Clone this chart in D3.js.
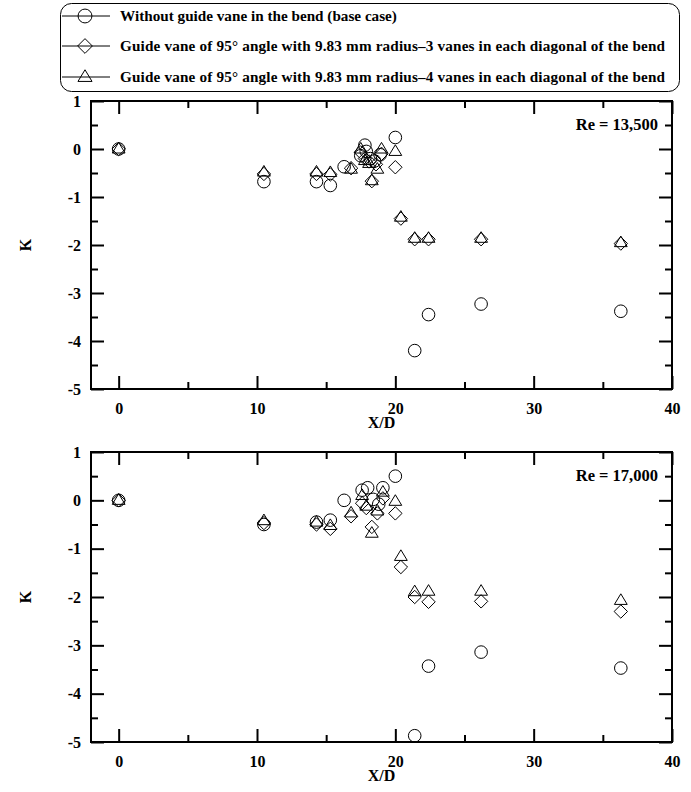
<!DOCTYPE html>
<html><head><meta charset="utf-8">
<script src="https://cdn.jsdelivr.net/npm/d3@7"></script>
<style>
body{margin:0;background:#fff;}
svg{display:block;}
text{font-family:"Liberation Serif","Times New Roman",serif;font-weight:bold;fill:#000;}
</style></head><body>
<svg id="c" width="691" height="792"></svg>
<script>
// ---- data ----
const legendLabels = [
  "Without guide vane in the bend (base case)",
  "Guide vane of 95\u00b0 angle with 9.83 mm radius\u20133 vanes in each diagonal of the bend",
  "Guide vane of 95\u00b0 angle with 9.83 mm radius\u20134 vanes in each diagonal of the bend"
];
const xTicks = [0, 10, 20, 30, 40];
const xMinorTicks = [5, 15, 25, 35];
const yTicks = [1, 0, -1, -2, -3, -4, -5];
const yMinorTicks = [0.5, -0.5, -1.5, -2.5, -3.5, -4.5];
const reLabels = ["Re = 13,500", "Re = 17,000"];

// Re = 13,500
const topCircleX  = [0, 10.5, 14.3, 15.3, 16.3, 17.5, 17.8, 17.9, 18.2, 18.5, 18.9, 20.0, 21.4, 22.4, 26.2, 36.3];
const topCircleK  = [0, -0.68, -0.68, -0.76, -0.37, -0.14, 0.08, -0.05, -0.2, -0.25, -0.12, 0.24, -4.2, -3.45, -3.23, -3.38];
const topDiamondX = [0, 10.5, 14.3, 15.3, 16.8, 17.5, 17.8, 18.1, 18.3, 18.6, 19.0, 20.0, 20.4, 21.4, 22.4, 26.2, 36.3];
const topDiamondK = [0, -0.52, -0.52, -0.53, -0.40, -0.07, -0.2, -0.26, -0.67, -0.32, -0.1, -0.38, -1.45, -1.88, -1.88, -1.88, -1.97];
const topTriX     = [0, 10.5, 14.3, 15.3, 16.8, 17.5, 17.8, 18.1, 18.3, 18.7, 19.0, 20.0, 20.4, 21.4, 22.4, 26.2, 36.3];
const topTriK     = [0, -0.48, -0.48, -0.49, -0.42, 0.0, -0.24, -0.3, -0.66, -0.42, 0.0, -0.05, -1.42, -1.86, -1.86, -1.86, -1.95];

// Re = 17,000
const botCircleX  = [0, 10.5, 14.3, 15.3, 16.3, 17.6, 18.0, 18.4, 18.8, 19.1, 20.0, 21.4, 22.4, 26.2, 36.3];
const botCircleK  = [0, -0.5, -0.45, -0.41, 0.0, 0.21, 0.26, 0.02, -0.08, 0.26, 0.5, -4.87, -3.43, -3.14, -3.47];
const botDiamondX = [0, 10.5, 14.3, 15.3, 16.8, 17.6, 17.9, 18.3, 18.7, 19.1, 20.0, 20.4, 21.4, 22.4, 26.2, 36.3];
const botDiamondK = [0, -0.47, -0.5, -0.59, -0.33, -0.06, -0.16, -0.55, -0.27, 0.04, -0.27, -1.38, -2.0, -2.1, -2.09, -2.3];
const botTriX     = [0, 10.5, 14.3, 15.3, 16.8, 17.6, 17.9, 18.3, 18.7, 19.1, 20.0, 20.4, 21.4, 22.4, 26.2, 36.3];
const botTriK     = [0, -0.42, -0.45, -0.52, -0.26, 0.1, -0.12, -0.68, -0.22, 0.17, -0.02, -1.16, -1.89, -1.88, -1.88, -2.07];

const panels = [
  {re: reLabels[0], top: 101, bottom: 389, series: [[topCircleX, topCircleK], [topDiamondX, topDiamondK], [topTriX, topTriK]]},
  {re: reLabels[1], top: 452, bottom: 742, series: [[botCircleX, botCircleK], [botDiamondX, botDiamondK], [botTriX, botTriK]]}
];

// ---- drawing ----
const svg = d3.select("#c");
const left = 91, right = 672;
const x = d3.scaleLinear().domain([-2, 40]).range([left, right]);

function drawMarker(g, i, cx, cy, scale) {
  scale = scale || 1;
  if (i === 0) {
    g.append("circle").attr("cx", cx).attr("cy", cy).attr("r", 6.3 * scale)
      .attr("fill", "none").attr("stroke", "#000").attr("stroke-width", 1);
  } else if (i === 1) {
    const h = 6.7 * scale;
    g.append("path").attr("d", `M${cx},${cy - h}L${cx + h},${cy}L${cx},${cy + h}L${cx - h},${cy}Z`)
      .attr("fill", "none").attr("stroke", "#000").attr("stroke-width", 1);
  } else {
    const w = 6.4 * scale, ht = 10.6 * scale;
    g.append("path").attr("d", `M${cx},${cy - ht * 0.62}L${cx + w},${cy + ht * 0.38}L${cx - w},${cy + ht * 0.38}Z`)
      .attr("fill", "none").attr("stroke", "#000").attr("stroke-width", 1);
  }
}

panels.forEach(p => {
  const y = d3.scaleLinear().domain([-5, 1]).range([p.bottom, p.top]);
  const g = svg.append("g");
  const fmt = d => String(d);

  const addAxis = (axis, tx, ty) => {
    const a = g.append("g").attr("transform", `translate(${tx},${ty})`).call(axis);
    a.select(".domain").remove();
    a.selectAll("line").attr("stroke", "#000").attr("stroke-width", 2);
    return a;
  };
  const xb = addAxis(d3.axisBottom(x).tickValues(xTicks).tickSize(-13).tickPadding(14).tickFormat(fmt), 0, p.bottom);
  xb.selectAll("text").attr("font-size", 16).attr("font-family", "Liberation Serif").attr("font-weight", "bold");
  addAxis(d3.axisBottom(x).tickValues(xMinorTicks).tickSize(-7).tickFormat(""), 0, p.bottom);
  addAxis(d3.axisTop(x).tickValues(xTicks).tickSize(-13).tickFormat(""), 0, p.top);
  addAxis(d3.axisTop(x).tickValues(xMinorTicks).tickSize(-7).tickFormat(""), 0, p.top);

  const yl = addAxis(d3.axisLeft(y).tickValues(yTicks).tickSize(-13).tickPadding(10).tickFormat(fmt), left, 0);
  yl.selectAll("text").attr("font-size", 16).attr("font-family", "Liberation Serif").attr("font-weight", "bold");
  addAxis(d3.axisLeft(y).tickValues(yMinorTicks).tickSize(-7).tickFormat(""), left, 0);
  addAxis(d3.axisRight(y).tickValues(yTicks).tickSize(-13).tickFormat(""), right, 0);
  addAxis(d3.axisRight(y).tickValues(yMinorTicks).tickSize(-7).tickFormat(""), right, 0);

  g.append("rect").attr("x", left).attr("y", p.top).attr("width", right - left).attr("height", p.bottom - p.top)
    .attr("fill", "none").attr("stroke", "#000").attr("stroke-width", 2);

  p.series.forEach((s, i) => {
    const mg = g.append("g");
    s[0].forEach((xv, j) => drawMarker(mg, i, x(xv), y(s[1][j])));
  });

  g.append("text").attr("x", 658).attr("y", p.top + 29).attr("text-anchor", "end")
    .attr("font-size", 16.5).text(p.re);
  g.append("text").attr("x", (left + right) / 2).attr("y", p.bottom + 39).attr("text-anchor", "middle")
    .attr("font-size", 16).text("X/D");
  g.append("text").attr("transform", `translate(31,${(p.top + p.bottom) / 2}) rotate(-90)`)
    .attr("text-anchor", "middle").attr("font-size", 16).text("K");
});

// legend
const lg = svg.append("g");
lg.append("rect").attr("x", 60.5).attr("y", 3.5).attr("width", 619).attr("height", 88).attr("rx", 11)
  .attr("fill", "none").attr("stroke", "#000").attr("stroke-width", 1);
const rowY = [16, 46, 77];
legendLabels.forEach((t, i) => {
  lg.append("line").attr("x1", 62).attr("x2", 110).attr("y1", rowY[i]).attr("y2", rowY[i])
    .attr("stroke", "#000").attr("stroke-width", 1);
  drawMarker(lg, i, 85, rowY[i], 1.1);
  const tx = lg.append("text").attr("x", 120).attr("y", rowY[i] + 5).attr("font-size", 15.2).text(t);
  if (i > 0) tx.attr("textLength", 545).attr("lengthAdjust", "spacing");
});
</script></body></html>
